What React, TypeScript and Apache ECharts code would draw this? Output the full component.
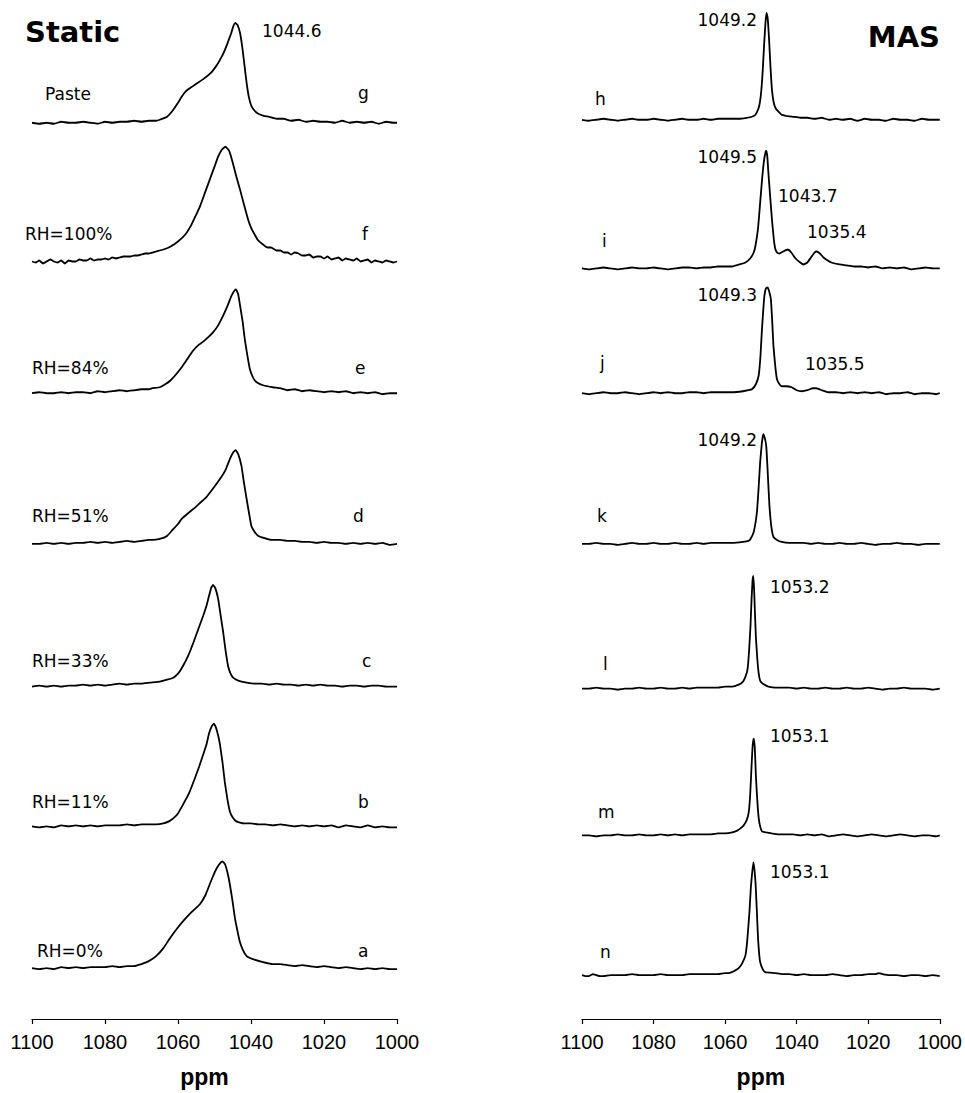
import React, { useEffect, useRef } from "react";
import * as echarts from "echarts";

// ppm tick values shared by both panels
const ppmTicks = [1100, 1080, 1060, 1040, 1020, 1000];

// Static spectra: [ppm, intensity]
const staticG = [[1100,0],[1098,-1],[1096,0],[1094,-1],[1092,1],[1090,0],[1088,0],[1086,1],[1084,0],[1082,-1],[1080,1],[1078,0],[1076,1],[1074,1],[1072,2],[1070,1],[1068,2],[1066,2],[1065,3],[1063,6],[1061.5,12],[1060,20],[1059,26],[1058,31],[1057,34],[1055,39],[1053,44],[1051,50],[1049.5,57],[1048.5,63],[1047.5,70],[1046.5,79],[1045.5,89],[1044.8,97],[1044.3,100],[1043.7,98],[1043,90],[1042.4,76],[1041.8,58],[1041.2,40],[1040.6,26],[1039.9,17],[1039,12],[1038,9],[1036.5,7],[1035,6],[1033,4],[1031,4],[1029,2],[1027,3],[1025,1],[1023,2],[1021,1],[1019,1],[1017,0],[1015,2],[1013,0],[1011,1],[1009,0],[1007,1],[1005,-1],[1003,1],[1001,0],[1000,0]];
const staticF = [[1100,0],[1099,-1],[1098,1],[1097,-2],[1096,0],[1095,2],[1094,0],[1093,-1],[1092,1],[1091,-2],[1090,1],[1089,0],[1088,0],[1087,2],[1086,1],[1085,1],[1084,3],[1083,1],[1082,2],[1081,2],[1080,3],[1079,2],[1078,4],[1077,3],[1076,4],[1075,5],[1074,5],[1073,5],[1072,6],[1071,6],[1070,7],[1069,8],[1068,8],[1066,10],[1064,12],[1062,15],[1060,20],[1058,27],[1056.3,37],[1055,47],[1054,55],[1052.5,70],[1051.3,82],[1050,95],[1049,105],[1048,112],[1047,115],[1046,111],[1045,99],[1044,85],[1043,72],[1042,58],[1040.8,42],[1040,34],[1039,27],[1038,21],[1036.7,17],[1035.5,14],[1034.5,14],[1033,11],[1032,11],[1031,9],[1030,9],[1029,7],[1028,9],[1027,8],[1026,6],[1025,6],[1024,7],[1023,4],[1022,5],[1021,5],[1020,3],[1019,5],[1018,2],[1017,3],[1016,4],[1015,1],[1014,3],[1013,2],[1012,1],[1011,3],[1010,0],[1009,1],[1008,2],[1007,-1],[1006,1],[1005,0],[1004,-1],[1003,1],[1002,0],[1001,-1],[1000,0]];
const staticE = [[1100,0],[1098,1],[1096,0],[1094,0],[1092,1],[1090,0],[1088,1],[1086,1],[1084,0],[1082,2],[1080,1],[1078,2],[1076,3],[1074,2],[1072,3],[1070,4],[1068,4],[1067,5],[1065,6],[1063.5,9],[1062,13],[1060.5,19],[1059,26],[1057.5,34],[1056,42],[1054.5,48],[1053,52],[1051.5,57],[1050.4,61],[1049,68],[1047.6,78],[1046.5,87],[1045.3,98],[1044.5,103],[1044.1,104],[1043.5,99],[1043,88],[1042.3,72],[1041.7,54],[1041,38],[1040.3,24],[1039.6,17],[1039,13],[1038,10],[1036.7,8],[1034,6],[1032,5],[1030,3],[1028,4],[1026,2],[1024,3],[1022,2],[1020,1],[1018,2],[1016,1],[1014,2],[1012,0],[1010,1],[1008,0],[1006,1],[1004,-1],[1002,0],[1000,0]];
const staticD = [[1100,0],[1098,0],[1096,1],[1094,0],[1092,1],[1090,0],[1088,1],[1086,1],[1084,2],[1082,1],[1080,2],[1078,1],[1076,2],[1074,3],[1072,2],[1070,3],[1068,4],[1067,4],[1065,5],[1063,8],[1061.5,14],[1060,20],[1059,25],[1057.5,30],[1055.8,35],[1054,41],[1052.2,47],[1050.5,55],[1048.5,65],[1047,74],[1045.8,85],[1044.8,92],[1044.2,94],[1043.5,90],[1042.6,78],[1042,63],[1041.2,45],[1040.5,30],[1039.9,18],[1039,12],[1038,8],[1036.5,6],[1034.5,4],[1032,4],[1030,3],[1028,3],[1026,2],[1024,2],[1022,1],[1020,2],[1018,1],[1016,1],[1014,0],[1012,1],[1010,0],[1008,1],[1006,0],[1004,1],[1002,-1],[1000,0]];
const staticC = [[1100,-1],[1098,0],[1096,-1],[1094,0],[1092,-1],[1090,0],[1088,0],[1086,1],[1084,0],[1082,1],[1080,0],[1078,1],[1076,2],[1074,1],[1072,2],[1070,2],[1067.7,3],[1065,4],[1063,6],[1061.3,8],[1060,12],[1058.6,20],[1057.2,30],[1055.8,43],[1054.5,56],[1053.1,70],[1052.2,80],[1051.5,90],[1050.9,98],[1050.4,101],[1049.8,98],[1049,87],[1048.3,70],[1047.6,53],[1047,36],[1046.3,20],[1045.6,12],[1044.9,8],[1043.5,5],[1041.2,3],[1039,2],[1037,2],[1035,1],[1033,2],[1031,1],[1029,1],[1027,0],[1025,1],[1023,0],[1021,1],[1019,0],[1017,0],[1015,-1],[1013,0],[1011,0],[1009,-1],[1007,0],[1005,0],[1003,-1],[1000,-1]];
const staticB = [[1100,0],[1098,-1],[1096,0],[1094,-1],[1092,1],[1090,0],[1088,1],[1086,0],[1084,1],[1082,0],[1080,1],[1078,1],[1076,1],[1074,2],[1072,1],[1070,2],[1068,2],[1066,2],[1064,3],[1062.5,5],[1061.3,8],[1060,13],[1058.6,22],[1057,33],[1055.4,48],[1054.2,60],[1053.1,72],[1052.2,82],[1051.5,93],[1050.8,100],[1050.2,103],[1049.6,99],[1049,91],[1048.5,82],[1047.8,64],[1047.2,45],[1046.5,28],[1045.8,15],[1045,9],[1044,5],[1042,3],[1040,3],[1038,2],[1036,2],[1034,1],[1032,2],[1030,1],[1028,0],[1026,1],[1024,0],[1022,1],[1020,0],[1018,1],[1016,-1],[1014,1],[1012,0],[1010,-1],[1008,1],[1006,-1],[1004,0],[1002,-1],[1000,-1]];
const staticA = [[1100,0],[1098,-1],[1096,0],[1094,-1],[1092,1],[1090,0],[1088,1],[1086,0],[1084,1],[1082,1],[1080,1],[1078,2],[1076,1],[1074,2],[1072,2],[1071,3],[1070,4],[1068,7],[1066,12],[1064,20],[1062.2,30],[1060.4,39],[1058.6,47],[1056.3,56],[1054,64],[1052.5,73],[1051.3,84],[1050.3,93],[1049.4,100],[1048.5,105],[1047.8,107],[1047.1,104],[1046.4,95],[1045.8,84],[1045.1,68],[1044.4,50],[1043.7,37],[1043.1,27],[1042.2,18],[1041.2,12],[1039.5,9],[1036.7,6],[1034,4],[1032,4],[1030,3],[1028,2],[1026,3],[1024,2],[1022,1],[1020,2],[1018,1],[1016,0],[1014,1],[1012,0],[1010,-1],[1008,0],[1006,-1],[1004,0],[1002,-1],[1000,-1]];

// MAS spectra: [ppm, intensity]
const masH = [[1100,0],[1098,-1],[1096,0],[1094,1],[1092,0],[1090,-1],[1088,0],[1086,1],[1084,0],[1082,0],[1080,1],[1078,0],[1076,-1],[1074,0],[1072,1],[1070,0],[1068,0],[1066,1],[1064,0],[1062,1],[1060,1],[1058,1],[1056,1],[1054,2],[1052.5,3],[1051.5,5],[1050.6,12],[1050,25],[1049.5,48],[1049.1,75],[1048.7,98],[1048.4,107],[1048.1,102],[1047.7,80],[1047.3,52],[1046.9,30],[1046.4,17],[1045.8,11],[1045,8],[1044.2,5],[1043,4],[1041,3],[1039,2],[1037,2],[1035,1],[1033,2],[1031,0],[1029,1],[1027,0],[1025,1],[1023,-1],[1021,1],[1019,0],[1017,0],[1015,-1],[1013,1],[1011,0],[1009,0],[1007,-1],[1005,1],[1003,0],[1001,0],[1000,0]];
const masI = [[1100,0],[1098,-1],[1096,0],[1094,1],[1092,0],[1090,-1],[1088,0],[1086,1],[1084,0],[1082,0],[1080,1],[1078,0],[1076,-1],[1074,0],[1072,1],[1070,1],[1068,0],[1066,1],[1064,1],[1062,2],[1060,2],[1058,2],[1056,4],[1054.3,6],[1053,10],[1052,16],[1051.5,23],[1050.8,40],[1050.2,66],[1049.6,92],[1049.2,106],[1048.8,115],[1048.5,118],[1048.2,112],[1047.9,96],[1047.4,72],[1046.9,49],[1046.4,30],[1046,20],[1045.5,16],[1044.8,15],[1043.8,17],[1042.5,19],[1041.5,16],[1040.3,10],[1039,6],[1038.1,4],[1037,6],[1036,11],[1035,16],[1034.4,17],[1033.5,15],[1032.5,11],[1031.3,8],[1030.3,6],[1028,4],[1026,3],[1024,2],[1022,2],[1020,1],[1018,2],[1016,0],[1014,1],[1012,0],[1010,1],[1008,-1],[1006,0],[1004,1],[1002,0],[1000,0]];
const masJ = [[1100,0],[1098,-1],[1096,0],[1094,1],[1092,0],[1090,0],[1088,1],[1086,0],[1084,-1],[1082,0],[1080,1],[1078,0],[1076,1],[1074,0],[1072,0],[1070,1],[1068,1],[1066,0],[1064,1],[1062,1],[1060,1],[1058,1],[1055,2],[1053.5,3],[1052.5,4],[1051.4,9],[1050.6,18],[1050.1,38],[1049.7,64],[1049.3,85],[1049,98],[1048.6,105],[1048.1,106],[1047.6,101],[1047.2,94],[1046.8,70],[1046.5,48],[1046,28],[1045.5,14],[1044.8,9],[1044.2,7],[1043,7],[1041.4,6],[1040,3],[1038.6,2],[1037,3],[1035.5,5],[1034.5,5],[1033,3],[1031.2,1],[1029,1],[1027,0],[1025,1],[1023,0],[1021,1],[1019,0],[1017,1],[1015,-1],[1013,0],[1011,0],[1009,1],[1007,-1],[1005,0],[1003,0],[1001,-1],[1000,0]];
const masK = [[1100,0],[1098,0],[1096,1],[1094,0],[1092,0],[1090,-1],[1088,0],[1086,1],[1084,0],[1082,0],[1080,1],[1078,0],[1076,0],[1074,1],[1072,0],[1070,0],[1068,1],[1066,0],[1064,1],[1062,1],[1060,1],[1058,1],[1055,2],[1053.5,3],[1052.9,5],[1052,12],[1051.1,32],[1050.6,58],[1050.2,82],[1049.7,102],[1049.3,110],[1048.9,106],[1048.5,98],[1048.2,80],[1047.9,58],[1047.6,38],[1047.1,18],[1046.5,7],[1045.5,4],[1044.2,2],[1042,1],[1040,1],[1038,1],[1036,0],[1034,1],[1032,0],[1030,0],[1028,1],[1026,0],[1024,0],[1022,1],[1020,0],[1018,-1],[1016,0],[1014,0],[1012,1],[1010,0],[1008,0],[1006,-1],[1004,0],[1002,0],[1000,0]];
const masL = [[1100,0],[1098,0],[1096,1],[1094,0],[1092,0],[1090,-1],[1088,0],[1086,0],[1084,1],[1082,0],[1080,0],[1078,1],[1076,0],[1074,0],[1072,1],[1070,0],[1068,1],[1066,1],[1064,1],[1062,1],[1060,2],[1058,2],[1056.2,4],[1055,7],[1054.2,13],[1053.7,20],[1053.3,38],[1052.9,63],[1052.6,90],[1052.3,110],[1052.1,113],[1051.9,100],[1051.7,80],[1051.4,52],[1051,30],[1050.6,15],[1050.2,8],[1049.5,5],[1048.5,3],[1047.9,2],[1046,1],[1044,1],[1042,1],[1040,0],[1038,1],[1036,0],[1034,0],[1032,1],[1030,0],[1028,0],[1026,1],[1024,0],[1022,0],[1020,1],[1018,0],[1016,-1],[1014,0],[1012,0],[1010,1],[1008,0],[1006,0],[1004,0],[1002,-1],[1000,0]];
const masM = [[1100,0],[1098,0],[1096,-1],[1094,0],[1092,0],[1090,1],[1088,0],[1086,0],[1084,1],[1082,0],[1080,0],[1078,1],[1076,0],[1074,1],[1072,0],[1070,1],[1068,1],[1066,1],[1064,1],[1062,2],[1060,2],[1058,3],[1056.5,5],[1055.7,7],[1054.8,10],[1054,15],[1053.4,23],[1053,40],[1052.6,70],[1052.3,90],[1052,97],[1051.7,88],[1051.4,60],[1051,35],[1050.6,17],[1050.2,9],[1049.7,4],[1048.5,3],[1047,2],[1045,1],[1043,1],[1041,1],[1039,0],[1037,1],[1035,0],[1033,1],[1031,-1],[1029,0],[1027,1],[1025,0],[1023,-1],[1021,0],[1019,1],[1017,0],[1015,-1],[1013,0],[1011,1],[1009,0],[1007,-1],[1005,0],[1003,0],[1001,-1],[1000,0]];
const masN = [[1100,0],[1099,-1],[1098,-1],[1097,1],[1096,0],[1095,-1],[1094,-1],[1092,0],[1090,0],[1088,0],[1086,1],[1084,0],[1082,0],[1080,0],[1078,1],[1076,0],[1074,0],[1072,0],[1070,1],[1068,1],[1066,1],[1064,1],[1062,1],[1060,2],[1059,2],[1057.5,4],[1056.2,7],[1055.2,12],[1054.3,20],[1053.8,35],[1053.2,63],[1052.8,88],[1052.5,100],[1052.1,113],[1051.8,106],[1051.5,93],[1051.1,62],[1050.8,37],[1050.5,22],[1050.2,13],[1049.5,6],[1048.8,3],[1046,2],[1044,1],[1042,1],[1040,0],[1038,1],[1036,0],[1034,0],[1032,0],[1030,1],[1028,0],[1026,-1],[1024,0],[1022,0],[1020,1],[1018,1],[1017,2],[1016,1],[1014,0],[1012,0],[1010,-1],[1008,0],[1006,0],[1004,-1],[1002,0],[1000,-1]];

// stacking offsets (vertical shift of each trace)
const staticSeries = [staticG, staticF, staticE, staticD, staticC, staticB, staticA];
const staticOffsets = [898, 759, 627, 476, 334, 193, 51];
const masSeries = [masH, masI, masJ, masK, masL, masM, masN];
const masOffsets = [901, 752, 627, 476, 331, 184, 44];

const staticNames = ["Paste", "RH=100%", "RH=84%", "RH=51%", "RH=33%", "RH=11%", "RH=0%"];
const staticLetters = ["g", "f", "e", "d", "c", "b", "a"];
const masLetters = ["h", "i", "j", "k", "l", "m", "n"];
const peakLabels = ["1044.6", "1049.2", "1049.5", "1043.7", "1035.4", "1049.3", "1035.5", "1049.2", "1053.2", "1053.1", "1053.1"];

const LBL_FONT = '17px "DejaVu Sans"';

function txt(text: string, x: number, baseline: number, align = "left", font = LBL_FONT) {
  const size = parseFloat(font.match(/(\d+)px/)![1]);
  return {
    type: "text",
    x,
    y: baseline - size * 0.36,
    silent: true,
    style: {
      text,
      font,
      fill: "#000",
      align,
      textAlign: align,
      verticalAlign: "middle",
      textVerticalAlign: "middle",
    },
  };
}

export default function App() {
  const ref = useRef<HTMLDivElement>(null);
  useEffect(() => {
    const chart = echarts.init(ref.current!, null, { renderer: "svg" });
    const axisCommon = (gridIndex: number, padLeft: number) => ({
      type: "value",
      gridIndex,
      min: 1000,
      max: 1100,
      interval: 20,
      inverse: true,
      name: "ppm",
      nameLocation: "middle",
      nameGap: 46,
      nameTextStyle: {
        fontFamily: "Liberation Sans, Arial",
        fontWeight: "bold",
        fontSize: 23,
        color: "#000",
        padding: [0, padLeft, 0, 0],
      },
      axisLine: { show: true, lineStyle: { color: "#000", width: 1.2 } },
      axisTick: { show: true, length: 5, lineStyle: { color: "#000", width: 1.2 } },
      axisLabel: {
        margin: 13,
        fontFamily: "Liberation Sans, Arial",
        fontSize: 20,
        color: "#000",
        formatter: (v: number) => (ppmTicks.includes(v) ? String(v) : ""),
      },
      splitLine: { show: false },
    });
    const yCommon = (gridIndex: number) => ({
      type: "value",
      gridIndex,
      min: 0,
      max: 1021,
      show: false,
      splitLine: { show: false },
    });
    const mk = (arr: number[][], off: number, gi: number, name: string) => ({
      type: "line",
      name,
      xAxisIndex: gi,
      yAxisIndex: gi,
      data: arr.map(([x, v]) => [x, off + v]),
      showSymbol: false,
      smooth: 0.12,
      lineStyle: { color: "#000", width: 1.8 },
      silent: true,
    });
    const series = [
      ...staticSeries.map((s, i) => mk(s, staticOffsets[i], 0, staticLetters[i])),
      ...masSeries.map((s, i) => mk(s, masOffsets[i], 1, masLetters[i])),
    ];
    const labelBaselines = [100, 240, 374, 522, 667, 808, 957];
    const nameX = [45, 25, 32, 32, 32, 32, 37];
    const letterX = [358, 362, 355, 353, 362, 358, 358];
    const masLetterX = [595, 602, 600, 597, 603, 598, 600];
    const masLetterBase = [105, 247, 369, 522, 670, 818, 958];
    const graphics: any[] = [];
    staticNames.forEach((n, i) => graphics.push(txt(n, nameX[i], labelBaselines[i])));
    staticLetters.forEach((n, i) => graphics.push(txt(n, letterX[i], labelBaselines[i] - (i === 0 ? 1 : 0))));
    masLetters.forEach((n, i) => graphics.push(txt(n, masLetterX[i], masLetterBase[i])));
    graphics.push(txt(peakLabels[0], 262, 37));
    graphics.push(txt(peakLabels[1], 757, 26, "right"));
    graphics.push(txt(peakLabels[2], 757, 163, "right"));
    graphics.push(txt(peakLabels[3], 778, 202));
    graphics.push(txt(peakLabels[4], 807, 238));
    graphics.push(txt(peakLabels[5], 757, 301, "right"));
    graphics.push(txt(peakLabels[6], 805, 370));
    graphics.push(txt(peakLabels[7], 757, 446, "right"));
    graphics.push(txt(peakLabels[8], 770, 593));
    graphics.push(txt(peakLabels[9], 770, 742));
    graphics.push(txt(peakLabels[10], 770, 878));
    graphics.push(txt("Static", 25, 42, "left", 'bold 29px "DejaVu Sans"'));
    graphics.push(txt("MAS", 940, 47, "right", 'bold 29px "DejaVu Sans"'));

    chart.setOption({
      animation: false,
      backgroundColor: "#fff",
      grid: [
        { left: 32, top: 0, width: 365, height: 1021 },
        { left: 582, top: 0, width: 360, height: 1021 },
      ],
      xAxis: [axisCommon(0, 20), axisCommon(1, 0)],
      yAxis: [yCommon(0), yCommon(1)],
      series,
      graphic: graphics,
    });
    return () => chart.dispose();
  }, []);
  return (
    <div
      ref={ref}
      style={{ position: "absolute", left: 0, top: 0, width: 965, height: 1093, background: "#fff" }}
    />
  );
}
